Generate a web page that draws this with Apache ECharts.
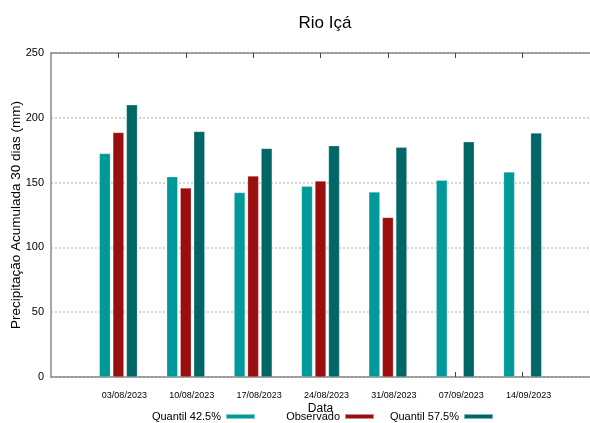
<!DOCTYPE html>
<html><head><meta charset="utf-8">
<script src="https://cdn.jsdelivr.net/npm/echarts@6/dist/echarts.min.js"></script>
<style>html,body{margin:0;padding:0;background:#fff}#c{width:590px;height:423px}</style>
</head><body><div id="c"></div>
<script>
const categories = ['03/08/2023','10/08/2023','17/08/2023','24/08/2023','31/08/2023','07/09/2023','14/09/2023'];
const q425 = [172.5, 154.6, 142.3, 147.2, 142.8, 151.8, 158.2];
const observado = [188.7, 145.9, 155.1, 151.3, 123.1, null, null];
const q575 = [210, 189.5, 176.4, 178.5, 177.2, 181.5, 188.2];
const yTicks = [0, 50, 100, 150, 200, 250];

const font = "'Liberation Sans Narrow', 'Liberation Sans', Arial, sans-serif";
// pad categories so the axis spans one slot on each side
const cats = [''].concat(categories, ['']);
const pad = arr => [null].concat(arr, [null]);

const chart = echarts.init(document.getElementById('c'));
const barStyle = c => ({color: c, borderColor: 'rgba(255,255,255,0.5)', borderWidth: 0.5});
const legendBase = {orient:'horizontal', align:'right', top: 411, itemWidth: 29, itemHeight: 5, icon:'rect',
  textStyle:{fontFamily: font, fontSize: 11, color:'#000'}, itemGap: 0, padding: 0, selectedMode: false};
chart.setOption({
  animation: false,
  title: {text: 'Rio Içá', left: 320, top: 10, textAlign: 'center',
    textStyle: {fontFamily: font, fontSize: 17, fontWeight: 'normal', color: '#000'}},
  grid: {left: 51, right: 0, top: 53, bottom: 46, containLabel: false, outerBoundsMode: 'none'},
  legend: [
    Object.assign({}, legendBase, {data: ['Quantil 42.5%'], right: 334}),
    Object.assign({}, legendBase, {data: ['Observado'], right: 215}),
    Object.assign({}, legendBase, {data: ['Quantil 57.5%'], right: 96})
  ],
  xAxis: [{
    type: 'category', data: cats, boundaryGap: false,
    name: 'Data', nameLocation: 'middle', nameGap: 26, nameMoveOverlap: false,
    nameTextStyle: {fontFamily: font, fontSize: 12, color: '#000'},
    axisLine: {lineStyle: {color: '#888', width: 1.5}},
    axisTick: {show: true, inside: true, length: 5, lineStyle: {color: '#444'},
      interval: (i) => i > 0 && i < cats.length - 1},
    axisLabel: {fontFamily: font, fontSize: 9, color: '#000', margin: 14, padding: [0,0,0,12],
      interval: 0},
    splitLine: {show: false}
  }, {
    type: 'category', data: cats, boundaryGap: false, position: 'top',
    axisLine: {show: true, lineStyle: {color: '#888', width: 1.5}},
    axisTick: {show: true, inside: true, length: 5, lineStyle: {color: '#444'},
      interval: (i) => i > 0 && i < cats.length - 1},
    axisLabel: {show: false}
  }],
  yAxis: {
    type: 'value', min: 0, max: 250, interval: 50,
    name: 'Precipitação Acumulada 30 dias (mm)', nameLocation: 'middle', nameGap: 28, nameMoveOverlap: false,
    nameTextStyle: {fontFamily: font, fontSize: 13.5, color: '#000'},
    axisLine: {show: true, lineStyle: {color: '#888', width: 1.5}},
    axisTick: {show: false},
    axisLabel: {fontFamily: font, fontSize: 11, color: '#000', margin: 7,
      formatter: v => yTicks.includes(v) ? String(v) : ''},
    splitLine: {show: true, lineStyle: {color: '#c8c8c8', type: [2, 2], width: 1.5}}
  },
  series: [
    {name: 'Quantil 42.5%', type: 'bar', data: pad(q425), barWidth: 11, barGap: '23%', itemStyle: barStyle('#009999')},
    {name: 'Observado', type: 'bar', data: pad(observado), barWidth: 11, barGap: '23%', itemStyle: barStyle('#990e0e')},
    {name: 'Quantil 57.5%', type: 'bar', data: pad(q575), barWidth: 11, barGap: '23%', itemStyle: barStyle('#006666')}
  ]
});
</script></body></html>
